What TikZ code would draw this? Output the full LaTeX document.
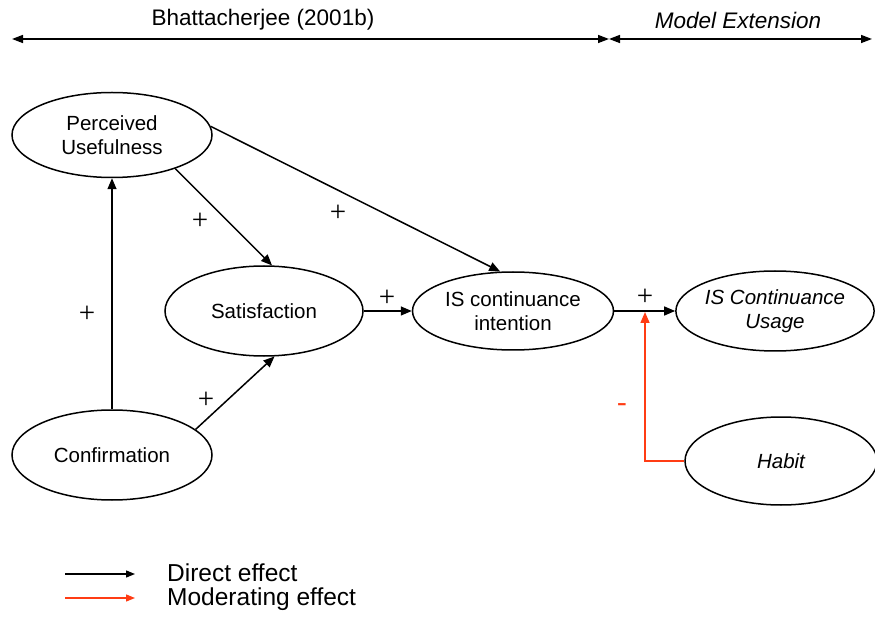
\documentclass[tikz,border=0pt]{standalone}
\usepackage{fontspec}
\setmainfont{Liberation Sans}
\newfontfamily\signfont{Liberation Serif}
\usetikzlibrary{shapes.geometric,arrows.meta}
\definecolor{modred}{RGB}{255,60,20}
\begin{document}
\begin{tikzpicture}[x=1pt,y=-1pt,
  construct/.style={ellipse,draw,line width=1.5pt,inner sep=0pt,align=center,
    font=\fontsize{20.5}{24}\selectfont},
  conn/.style={line width=1.5pt,-{Triangle[length=11pt,width=9pt]}},
  modconn/.style={line width=1.5pt,draw=modred,-{Triangle[length=11pt,width=9pt]},modred},
  sign/.style={font=\signfont\fontsize{29}{29}\selectfont},
  head/.style={font=\fontsize{22.5}{25}\selectfont},
  legtext/.style={anchor=west,inner sep=0pt,font=\fontsize{24.5}{25}\selectfont}]
\useasboundingbox (0,0) rectangle (875,617);

% header
\coordinate (L) at (12,39);
\coordinate (M) at (609,39);
\coordinate (R) at (872,39);
\draw[line width=1.5pt,{Triangle[length=11pt,width=8pt]}-{Triangle[length=11pt,width=8pt]}] (L) -- (M);
\draw[line width=1.5pt,{Triangle[length=11pt,width=8pt]}-{Triangle[length=11pt,width=8pt]}] (M) -- (R);
\node[head] (hb) at (263,20) {Bhattacherjee (2001b)};
\node[head] (hm) at (738,20) {\itshape Model Extension};

% constructs
\node[construct,minimum width=200pt,minimum height=85pt] (pu) at (112,135) {Perceived\\Usefulness};
\node[construct,minimum width=198pt,minimum height=90pt] (sat) at (264,311) {Satisfaction};
\node[construct,minimum width=201pt,minimum height=78pt] (isci) at (513,311) {IS continuance\\intention};
\node[construct,minimum width=196pt,minimum height=80pt] (iscu) at (775,311) {\itshape IS Continuance\\\itshape Usage};
\node[construct,minimum width=200pt,minimum height=90pt] (conf) at (112,455) {Confirmation};
\node[construct,minimum width=192pt,minimum height=88pt] (habit) at (781,461) {\itshape Habit};

% direct effects
\draw[conn] (conf.north) -- (pu.south);
\draw[conn] (pu.-28) -- (sat.80);
\draw[conn] (pu.5) -- (isci.108);
\draw[conn] (conf.17) -- (sat.-77);
\draw[conn] (sat.east) -- (isci.west);
\draw[conn] (isci.east) -- (iscu.west);

% moderating effect
\coordinate (mod) at (645,312);
\draw[modconn] (habit.west) -| (mod);

% signs
\node[sign] (s1) at (87,314) {+};
\node[sign] (s2) at (200,221) {+};
\node[sign] (s3) at (338,213) {+};
\node[sign] (s4) at (206,400) {+};
\node[sign] (s5) at (387,298) {+};
\node[sign] (s6) at (645,297) {+};
\node[sign,text=modred] (s7) at (622,408) {-};

% legend
\coordinate (la1) at (65,574);
\coordinate (lb1) at (135,574);
\coordinate (la2) at (65,598);
\coordinate (lb2) at (135,598);
\draw[line width=1.3pt,-{Triangle[length=9pt,width=7pt]}] (la1) -- (lb1);
\draw[line width=1.3pt,draw=modred,-{Triangle[length=9pt,width=7pt]},modred] (la2) -- (lb2);
\node[legtext] (t1) at (167,573) {Direct effect};
\node[legtext] (t2) at (167,599) {Moderating effect};
\end{tikzpicture}
\end{document}
